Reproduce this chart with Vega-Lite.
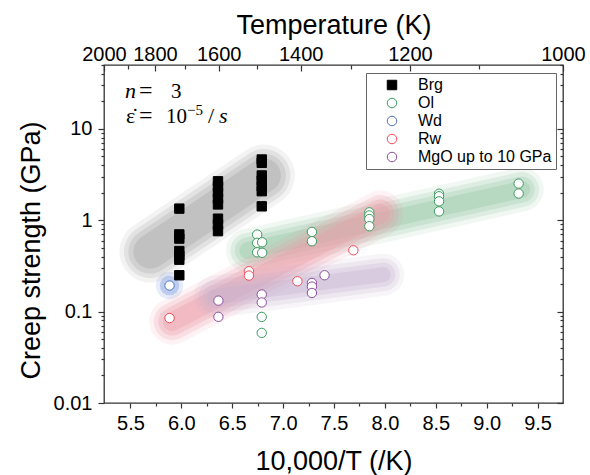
{
  "$schema": "https://vega.github.io/schema/vega-lite/v6.json",
  "width": 459,
  "height": 338,
  "autosize": "none",
  "padding": {"left": 104, "top": 65, "right": 27, "bottom": 72},
  "background": "white",
  "config": {
    "view": {"stroke": "#333", "strokeWidth": 1.3},
    "axis": {"domain": false, "grid": false, "labelFont": "Liberation Sans", "labelFontSize": 20, "labelColor": "#000", "tickColor": "#333", "tickWidth": 1.2, "titleFont": "Liberation Sans", "titleFontWeight": "normal", "titleColor": "#000", "labelOverlap": false, "labelBound": false, "labelFlush": false}
  },
  "datasets": {
    "pts": [
      {"mineral": "Brg", "x": 5.98, "y": 1.34}, {"mineral": "Brg", "x": 5.98, "y": 0.70}, {"mineral": "Brg", "x": 5.98, "y": 0.63}, {"mineral": "Brg", "x": 5.98, "y": 0.46}, {"mineral": "Brg", "x": 5.98, "y": 0.41}, {"mineral": "Brg", "x": 5.98, "y": 0.37}, {"mineral": "Brg", "x": 5.98, "y": 0.25},
      {"mineral": "Brg", "x": 6.36, "y": 2.67}, {"mineral": "Brg", "x": 6.36, "y": 2.34}, {"mineral": "Brg", "x": 6.36, "y": 2.01}, {"mineral": "Brg", "x": 6.36, "y": 1.73}, {"mineral": "Brg", "x": 6.36, "y": 1.49}, {"mineral": "Brg", "x": 6.36, "y": 1.04}, {"mineral": "Brg", "x": 6.36, "y": 0.90}, {"mineral": "Brg", "x": 6.36, "y": 0.76},
      {"mineral": "Brg", "x": 6.79, "y": 4.62}, {"mineral": "Brg", "x": 6.79, "y": 4.25}, {"mineral": "Brg", "x": 6.79, "y": 3.09}, {"mineral": "Brg", "x": 6.79, "y": 2.72}, {"mineral": "Brg", "x": 6.79, "y": 2.36}, {"mineral": "Brg", "x": 6.79, "y": 2.08}, {"mineral": "Brg", "x": 6.79, "y": 1.42},
      {"mineral": "Ol", "x": 6.745, "y": 0.697}, {"mineral": "Ol", "x": 6.745, "y": 0.566}, {"mineral": "Ol", "x": 6.794, "y": 0.574}, {"mineral": "Ol", "x": 6.745, "y": 0.446}, {"mineral": "Ol", "x": 6.794, "y": 0.44}, {"mineral": "Ol", "x": 6.79, "y": 0.0875}, {"mineral": "Ol", "x": 6.79, "y": 0.0585},
      {"mineral": "Ol", "x": 7.283, "y": 0.746}, {"mineral": "Ol", "x": 7.283, "y": 0.589},
      {"mineral": "Ol", "x": 7.847, "y": 1.22}, {"mineral": "Ol", "x": 7.847, "y": 1.13}, {"mineral": "Ol", "x": 7.847, "y": 1.03}, {"mineral": "Ol", "x": 7.847, "y": 0.86},
      {"mineral": "Ol", "x": 8.532, "y": 1.95}, {"mineral": "Ol", "x": 8.532, "y": 1.83}, {"mineral": "Ol", "x": 8.532, "y": 1.61}, {"mineral": "Ol", "x": 8.532, "y": 1.25},
      {"mineral": "Ol", "x": 9.314, "y": 2.52}, {"mineral": "Ol", "x": 9.314, "y": 1.96},
      {"mineral": "Wd", "x": 5.884, "y": 0.193},
      {"mineral": "Rw", "x": 5.884, "y": 0.085}, {"mineral": "Rw", "x": 6.664, "y": 0.277}, {"mineral": "Rw", "x": 6.664, "y": 0.248}, {"mineral": "Rw", "x": 7.14, "y": 0.215}, {"mineral": "Rw", "x": 7.69, "y": 0.469},
      {"mineral": "MgO up to 10 GPa", "x": 6.364, "y": 0.132}, {"mineral": "MgO up to 10 GPa", "x": 6.364, "y": 0.0877}, {"mineral": "MgO up to 10 GPa", "x": 6.79, "y": 0.154}, {"mineral": "MgO up to 10 GPa", "x": 6.79, "y": 0.126}, {"mineral": "MgO up to 10 GPa", "x": 7.283, "y": 0.206}, {"mineral": "MgO up to 10 GPa", "x": 7.283, "y": 0.188}, {"mineral": "MgO up to 10 GPa", "x": 7.283, "y": 0.16}, {"mineral": "MgO up to 10 GPa", "x": 7.407, "y": 0.25}
    ],
    "bands": [
      {"band": "Brg", "x": 5.696, "y": 0.454}, {"band": "Brg", "x": 6.811, "y": 3.09},
      {"band": "Ol", "x": 6.654, "y": 0.466}, {"band": "Ol", "x": 9.344, "y": 2.17},
      {"band": "Rw", "x": 5.911, "y": 0.0777}, {"band": "Rw", "x": 7.955, "y": 1.184},
      {"band": "MgO", "x": 6.331, "y": 0.146}, {"band": "MgO", "x": 7.984, "y": 0.254}
    ],
    "ann": [{"line": 1, "x": 5.446, "y": 21.6}, {"line": 2, "x": 5.446, "y": 11.5}]
  },
  "resolve": {"axis": {"x": "independent", "y": "independent"}},
  "layer": [
    {"data": {"name": "bands"}, "transform": [{"filter": "datum.band === 'Brg'"}], "mark": {"type": "line", "strokeCap": "round", "strokeWidth": 62, "color": "#a0a0a0", "opacity": 0.12}, "encoding": {"x": {"field": "x", "type": "quantitative", "scale": {"domain": [5.24, 9.75], "nice": false, "zero": false}, "axis": null}, "y": {"field": "y", "type": "quantitative", "scale": {"type": "log", "domain": [0.01, 50], "nice": false}, "axis": null}}},
    {"data": {"name": "bands"}, "transform": [{"filter": "datum.band === 'Brg'"}], "mark": {"type": "line", "strokeCap": "round", "strokeWidth": 53, "color": "#a0a0a0", "opacity": 0.2}, "encoding": {"x": {"field": "x", "type": "quantitative", "scale": {"domain": [5.24, 9.75], "nice": false, "zero": false}, "axis": null}, "y": {"field": "y", "type": "quantitative", "scale": {"type": "log", "domain": [0.01, 50], "nice": false}, "axis": null}}},
    {"data": {"name": "bands"}, "transform": [{"filter": "datum.band === 'Brg'"}], "mark": {"type": "line", "strokeCap": "round", "strokeWidth": 44, "color": "#a0a0a0", "opacity": 0.25}, "encoding": {"x": {"field": "x", "type": "quantitative", "scale": {"domain": [5.24, 9.75], "nice": false, "zero": false}, "axis": null}, "y": {"field": "y", "type": "quantitative", "scale": {"type": "log", "domain": [0.01, 50], "nice": false}, "axis": null}}},
    {"data": {"name": "bands"}, "transform": [{"filter": "datum.band === 'Brg'"}], "mark": {"type": "line", "strokeCap": "round", "strokeWidth": 34, "color": "#a0a0a0", "opacity": 0.32}, "encoding": {"x": {"field": "x", "type": "quantitative", "scale": {"domain": [5.24, 9.75], "nice": false, "zero": false}, "axis": null}, "y": {"field": "y", "type": "quantitative", "scale": {"type": "log", "domain": [0.01, 50], "nice": false}, "axis": null}}},
    {"data": {"name": "bands"}, "transform": [{"filter": "datum.band === 'Ol'"}], "mark": {"type": "line", "strokeCap": "round", "strokeWidth": 44, "color": "#8fc49f", "opacity": 0.12}, "encoding": {"x": {"field": "x", "type": "quantitative", "scale": {"domain": [5.24, 9.75], "nice": false, "zero": false}, "axis": null}, "y": {"field": "y", "type": "quantitative", "scale": {"type": "log", "domain": [0.01, 50], "nice": false}, "axis": null}}},
    {"data": {"name": "bands"}, "transform": [{"filter": "datum.band === 'Ol'"}], "mark": {"type": "line", "strokeCap": "round", "strokeWidth": 35, "color": "#8fc49f", "opacity": 0.2}, "encoding": {"x": {"field": "x", "type": "quantitative", "scale": {"domain": [5.24, 9.75], "nice": false, "zero": false}, "axis": null}, "y": {"field": "y", "type": "quantitative", "scale": {"type": "log", "domain": [0.01, 50], "nice": false}, "axis": null}}},
    {"data": {"name": "bands"}, "transform": [{"filter": "datum.band === 'Ol'"}], "mark": {"type": "line", "strokeCap": "round", "strokeWidth": 26, "color": "#8fc49f", "opacity": 0.25}, "encoding": {"x": {"field": "x", "type": "quantitative", "scale": {"domain": [5.24, 9.75], "nice": false, "zero": false}, "axis": null}, "y": {"field": "y", "type": "quantitative", "scale": {"type": "log", "domain": [0.01, 50], "nice": false}, "axis": null}}},
    {"data": {"name": "bands"}, "transform": [{"filter": "datum.band === 'Ol'"}], "mark": {"type": "line", "strokeCap": "round", "strokeWidth": 17, "color": "#8fc49f", "opacity": 0.3}, "encoding": {"x": {"field": "x", "type": "quantitative", "scale": {"domain": [5.24, 9.75], "nice": false, "zero": false}, "axis": null}, "y": {"field": "y", "type": "quantitative", "scale": {"type": "log", "domain": [0.01, 50], "nice": false}, "axis": null}}},
    {"data": {"name": "bands"}, "transform": [{"filter": "datum.band === 'Rw'"}], "mark": {"type": "line", "strokeCap": "round", "strokeWidth": 46, "color": "#ec97a4", "opacity": 0.12}, "encoding": {"x": {"field": "x", "type": "quantitative", "scale": {"domain": [5.24, 9.75], "nice": false, "zero": false}, "axis": null}, "y": {"field": "y", "type": "quantitative", "scale": {"type": "log", "domain": [0.01, 50], "nice": false}, "axis": null}}},
    {"data": {"name": "bands"}, "transform": [{"filter": "datum.band === 'Rw'"}], "mark": {"type": "line", "strokeCap": "round", "strokeWidth": 37, "color": "#ec97a4", "opacity": 0.2}, "encoding": {"x": {"field": "x", "type": "quantitative", "scale": {"domain": [5.24, 9.75], "nice": false, "zero": false}, "axis": null}, "y": {"field": "y", "type": "quantitative", "scale": {"type": "log", "domain": [0.01, 50], "nice": false}, "axis": null}}},
    {"data": {"name": "bands"}, "transform": [{"filter": "datum.band === 'Rw'"}], "mark": {"type": "line", "strokeCap": "round", "strokeWidth": 28, "color": "#ec97a4", "opacity": 0.27}, "encoding": {"x": {"field": "x", "type": "quantitative", "scale": {"domain": [5.24, 9.75], "nice": false, "zero": false}, "axis": null}, "y": {"field": "y", "type": "quantitative", "scale": {"type": "log", "domain": [0.01, 50], "nice": false}, "axis": null}}},
    {"data": {"name": "bands"}, "transform": [{"filter": "datum.band === 'Rw'"}], "mark": {"type": "line", "strokeCap": "round", "strokeWidth": 19, "color": "#ec97a4", "opacity": 0.32}, "encoding": {"x": {"field": "x", "type": "quantitative", "scale": {"domain": [5.24, 9.75], "nice": false, "zero": false}, "axis": null}, "y": {"field": "y", "type": "quantitative", "scale": {"type": "log", "domain": [0.01, 50], "nice": false}, "axis": null}}},
    {"data": {"name": "bands"}, "transform": [{"filter": "datum.band === 'MgO'"}], "mark": {"type": "line", "strokeCap": "round", "strokeWidth": 42, "color": "#c4b0cf", "opacity": 0.12}, "encoding": {"x": {"field": "x", "type": "quantitative", "scale": {"domain": [5.24, 9.75], "nice": false, "zero": false}, "axis": null}, "y": {"field": "y", "type": "quantitative", "scale": {"type": "log", "domain": [0.01, 50], "nice": false}, "axis": null}}},
    {"data": {"name": "bands"}, "transform": [{"filter": "datum.band === 'MgO'"}], "mark": {"type": "line", "strokeCap": "round", "strokeWidth": 33, "color": "#c4b0cf", "opacity": 0.2}, "encoding": {"x": {"field": "x", "type": "quantitative", "scale": {"domain": [5.24, 9.75], "nice": false, "zero": false}, "axis": null}, "y": {"field": "y", "type": "quantitative", "scale": {"type": "log", "domain": [0.01, 50], "nice": false}, "axis": null}}},
    {"data": {"name": "bands"}, "transform": [{"filter": "datum.band === 'MgO'"}], "mark": {"type": "line", "strokeCap": "round", "strokeWidth": 24, "color": "#c4b0cf", "opacity": 0.27}, "encoding": {"x": {"field": "x", "type": "quantitative", "scale": {"domain": [5.24, 9.75], "nice": false, "zero": false}, "axis": null}, "y": {"field": "y", "type": "quantitative", "scale": {"type": "log", "domain": [0.01, 50], "nice": false}, "axis": null}}},
    {"data": {"name": "bands"}, "transform": [{"filter": "datum.band === 'MgO'"}], "mark": {"type": "line", "strokeCap": "round", "strokeWidth": 15, "color": "#c4b0cf", "opacity": 0.32}, "encoding": {"x": {"field": "x", "type": "quantitative", "scale": {"domain": [5.24, 9.75], "nice": false, "zero": false}, "axis": null}, "y": {"field": "y", "type": "quantitative", "scale": {"type": "log", "domain": [0.01, 50], "nice": false}, "axis": null}}},
    {"data": {"name": "pts"}, "transform": [{"filter": "datum.mineral === 'Wd'"}], "mark": {"type": "point", "shape": "circle", "filled": true, "size": 750, "color": "#5b82d6", "opacity": 0.15}, "encoding": {"x": {"field": "x", "type": "quantitative", "scale": {"domain": [5.24, 9.75], "nice": false, "zero": false}, "axis": null}, "y": {"field": "y", "type": "quantitative", "scale": {"type": "log", "domain": [0.01, 50], "nice": false}, "axis": null}}},
    {"data": {"name": "pts"}, "transform": [{"filter": "datum.mineral === 'Wd'"}], "mark": {"type": "point", "shape": "circle", "filled": true, "size": 380, "color": "#5b82d6", "opacity": 0.3}, "encoding": {"x": {"field": "x", "type": "quantitative", "scale": {"domain": [5.24, 9.75], "nice": false, "zero": false}, "axis": null}, "y": {"field": "y", "type": "quantitative", "scale": {"type": "log", "domain": [0.01, 50], "nice": false}, "axis": null}}},
    {
      "data": {"name": "pts"},
      "mark": {"type": "point", "size": 88, "strokeWidth": 1, "opacity": 1, "fillOpacity": 1},
      "encoding": {
        "x": {"field": "x", "type": "quantitative", "scale": {"domain": [5.24, 9.75], "nice": false, "zero": false},
          "axis": {"orient": "bottom", "values": [5.5, 6, 6.5, 7, 7.5, 8, 8.5, 9, 9.5], "format": ".1f", "tickSize": 5, "labelPadding": 5, "title": "10,000/T (/K)", "titleFontSize": 27, "titleBaseline": "alphabetic", "titleY": 66}},
        "y": {"field": "y", "type": "quantitative", "scale": {"type": "log", "domain": [0.01, 50], "nice": false},
          "axis": {"orient": "left", "values": [0.01, 0.1, 1, 10], "format": "~g", "tickSize": 6, "labelPadding": 6, "title": "Creep strength (GPa)", "titleFontSize": 27, "titleAngle": -90, "titleBaseline": "alphabetic", "titleX": -65, "titleY": 185}},
        "shape": {"field": "mineral", "type": "nominal", "scale": {"domain": ["Brg", "Ol", "Wd", "Rw", "MgO up to 10 GPa"], "range": ["square", "circle", "circle", "circle", "circle"]},
          "legend": {"title": null, "orient": "none", "legendX": 262, "legendY": 8, "padding": 4, "rowPadding": 2, "symbolOffset": 14, "labelOffset": 18, "labelFontSize": 16, "labelFont": "Liberation Sans", "labelColor": "#000", "symbolSize": 90, "symbolStrokeWidth": 1, "strokeColor": "#666", "fillColor": "#fff", "labelLimit": 400}},
        "fill": {"field": "mineral", "type": "nominal", "scale": {"domain": ["Brg", "Ol", "Wd", "Rw", "MgO up to 10 GPa"], "range": ["#000000", "#ffffff", "#ffffff", "#ffffff", "#ffffff"]},
          "legend": {"title": null, "orient": "none", "legendX": 262, "legendY": 8, "padding": 4, "rowPadding": 2, "symbolOffset": 14, "labelOffset": 18, "labelFontSize": 16, "labelFont": "Liberation Sans", "labelColor": "#000", "symbolSize": 90, "symbolStrokeWidth": 1, "strokeColor": "#666", "fillColor": "#fff", "labelLimit": 400}},
        "stroke": {"field": "mineral", "type": "nominal", "scale": {"domain": ["Brg", "Ol", "Wd", "Rw", "MgO up to 10 GPa"], "range": ["#000000", "#3c9b5f", "#4f74c3", "#ef4d5a", "#8d4f9d"]},
          "legend": {"title": null, "orient": "none", "legendX": 262, "legendY": 8, "padding": 4, "rowPadding": 2, "symbolOffset": 14, "labelOffset": 18, "labelFontSize": 16, "labelFont": "Liberation Sans", "labelColor": "#000", "symbolSize": 90, "symbolStrokeWidth": 1, "strokeColor": "#666", "fillColor": "#fff", "labelLimit": 400}}
      }
    },
    {
      "data": {"name": "ann"},
      "mark": {"type": "point", "opacity": 0},
      "encoding": {
        "x": {"field": "x", "type": "quantitative", "scale": {"domain": [5.24, 9.75], "nice": false, "zero": false},
          "axis": {"orient": "bottom", "values": [5.75, 6.25, 6.75, 7.25, 7.75, 8.25, 8.75, 9.25], "tickSize": 3, "labels": false, "title": null}},
        "y": {"field": "y", "type": "quantitative", "scale": {"type": "log", "domain": [0.01, 50], "nice": false},
          "axis": {"orient": "left", "values": [0.02, 0.03, 0.04, 0.05, 0.06, 0.07, 0.08, 0.09, 0.2, 0.3, 0.4, 0.5, 0.6, 0.7, 0.8, 0.9, 2, 3, 4, 5, 6, 7, 8, 9, 20, 30, 40, 50], "tickSize": 3, "labels": false, "title": null}}
      }
    },
    {
      "data": {"name": "ann"},
      "mark": {"type": "point", "opacity": 0},
      "encoding": {
        "x": {"field": "x", "type": "quantitative", "scale": {"domain": [5.24, 9.75], "nice": false, "zero": false},
          "axis": {"orient": "top", "offset": -6, "values": [5.24, 5.74111, 6.3675, 7.17286, 8.24667, 9.75], "labelExpr": "format(10000/(5+(datum.value-5.24)/0.902), '.0f')", "tickSize": 6, "labelPadding": 1, "title": "Temperature (K)", "titleFontSize": 27, "titleBaseline": "alphabetic", "titleY": -38}},
        "y": {"field": "y", "type": "quantitative", "scale": {"type": "log", "domain": [0.01, 50], "nice": false},
          "axis": {"orient": "right", "offset": -6, "values": [0.01, 0.1, 1, 10], "tickSize": 6, "labels": false, "title": null}}
      }
    },
    {
      "data": {"name": "ann"},
      "mark": {"type": "point", "opacity": 0},
      "encoding": {
        "x": {"field": "x", "type": "quantitative", "scale": {"domain": [5.24, 9.75], "nice": false, "zero": false},
          "axis": {"orient": "top", "offset": -4, "values": [5.47737, 6.03588, 6.74333, 7.66846, 8.92], "tickSize": 4, "labels": false, "title": null}},
        "y": {"field": "y", "type": "quantitative", "scale": {"type": "log", "domain": [0.01, 50], "nice": false},
          "axis": {"orient": "right", "offset": -3, "values": [0.02, 0.03, 0.04, 0.05, 0.06, 0.07, 0.08, 0.09, 0.2, 0.3, 0.4, 0.5, 0.6, 0.7, 0.8, 0.9, 2, 3, 4, 5, 6, 7, 8, 9, 20, 30, 40, 50], "tickSize": 3, "labels": false, "title": null}}
      }
    },
    {"data": {"name": "ann"}, "transform": [{"filter": "datum.line === 1"}], "mark": {"type": "text", "text": "n", "font": "Liberation Serif", "fontStyle": "italic", "fontSize": 22, "align": "left", "baseline": "alphabetic", "color": "#000", "dx": 0}, "encoding": {"x": {"field": "x", "type": "quantitative", "scale": {"domain": [5.24, 9.75], "nice": false, "zero": false}, "axis": null}, "y": {"field": "y", "type": "quantitative", "scale": {"type": "log", "domain": [0.01, 50], "nice": false}, "axis": null}}},
    {"data": {"name": "ann"}, "transform": [{"filter": "datum.line === 1"}], "mark": {"type": "text", "text": "=", "font": "Liberation Serif", "fontSize": 24, "align": "left", "baseline": "alphabetic", "color": "#000", "dx": 14}, "encoding": {"x": {"field": "x", "type": "quantitative", "scale": {"domain": [5.24, 9.75], "nice": false, "zero": false}, "axis": null}, "y": {"field": "y", "type": "quantitative", "scale": {"type": "log", "domain": [0.01, 50], "nice": false}, "axis": null}}},
    {"data": {"name": "ann"}, "transform": [{"filter": "datum.line === 1"}], "mark": {"type": "text", "text": "3", "font": "Liberation Serif", "fontSize": 21, "align": "left", "baseline": "alphabetic", "color": "#000", "dx": 46}, "encoding": {"x": {"field": "x", "type": "quantitative", "scale": {"domain": [5.24, 9.75], "nice": false, "zero": false}, "axis": null}, "y": {"field": "y", "type": "quantitative", "scale": {"type": "log", "domain": [0.01, 50], "nice": false}, "axis": null}}},
    {"data": {"name": "ann"}, "transform": [{"filter": "datum.line === 2"}], "mark": {"type": "text", "text": "ε̇", "font": "Liberation Serif", "fontSize": 22, "align": "left", "baseline": "alphabetic", "color": "#000", "dx": 1}, "encoding": {"x": {"field": "x", "type": "quantitative", "scale": {"domain": [5.24, 9.75], "nice": false, "zero": false}, "axis": null}, "y": {"field": "y", "type": "quantitative", "scale": {"type": "log", "domain": [0.01, 50], "nice": false}, "axis": null}}},
    {"data": {"name": "ann"}, "transform": [{"filter": "datum.line === 2"}], "mark": {"type": "text", "text": "=", "font": "Liberation Serif", "fontSize": 24, "align": "left", "baseline": "alphabetic", "color": "#000", "dx": 14}, "encoding": {"x": {"field": "x", "type": "quantitative", "scale": {"domain": [5.24, 9.75], "nice": false, "zero": false}, "axis": null}, "y": {"field": "y", "type": "quantitative", "scale": {"type": "log", "domain": [0.01, 50], "nice": false}, "axis": null}}},
    {"data": {"name": "ann"}, "transform": [{"filter": "datum.line === 2"}], "mark": {"type": "text", "text": "10", "font": "Liberation Serif", "fontSize": 21, "align": "left", "baseline": "alphabetic", "color": "#000", "dx": 41}, "encoding": {"x": {"field": "x", "type": "quantitative", "scale": {"domain": [5.24, 9.75], "nice": false, "zero": false}, "axis": null}, "y": {"field": "y", "type": "quantitative", "scale": {"type": "log", "domain": [0.01, 50], "nice": false}, "axis": null}}},
    {"data": {"name": "ann"}, "transform": [{"filter": "datum.line === 2"}], "mark": {"type": "text", "text": "−5", "font": "Liberation Serif", "fontSize": 15, "align": "left", "baseline": "alphabetic", "color": "#000", "dx": 62, "dy": -8}, "encoding": {"x": {"field": "x", "type": "quantitative", "scale": {"domain": [5.24, 9.75], "nice": false, "zero": false}, "axis": null}, "y": {"field": "y", "type": "quantitative", "scale": {"type": "log", "domain": [0.01, 50], "nice": false}, "axis": null}}},
    {"data": {"name": "ann"}, "transform": [{"filter": "datum.line === 2"}], "mark": {"type": "text", "text": "/", "font": "Liberation Serif", "fontSize": 22, "align": "left", "baseline": "alphabetic", "color": "#000", "dx": 83}, "encoding": {"x": {"field": "x", "type": "quantitative", "scale": {"domain": [5.24, 9.75], "nice": false, "zero": false}, "axis": null}, "y": {"field": "y", "type": "quantitative", "scale": {"type": "log", "domain": [0.01, 50], "nice": false}, "axis": null}}},
    {"data": {"name": "ann"}, "transform": [{"filter": "datum.line === 2"}], "mark": {"type": "text", "text": "s", "font": "Liberation Serif", "fontStyle": "italic", "fontSize": 22, "align": "left", "baseline": "alphabetic", "color": "#000", "dx": 94}, "encoding": {"x": {"field": "x", "type": "quantitative", "scale": {"domain": [5.24, 9.75], "nice": false, "zero": false}, "axis": null}, "y": {"field": "y", "type": "quantitative", "scale": {"type": "log", "domain": [0.01, 50], "nice": false}, "axis": null}}}
  ]
}
